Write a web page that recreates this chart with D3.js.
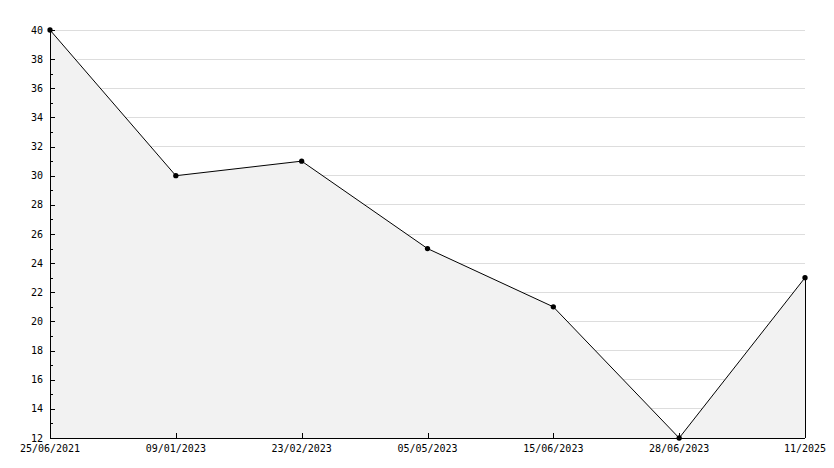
<!DOCTYPE html>
<html><head><meta charset="utf-8">
<script src="https://cdn.jsdelivr.net/npm/d3@7"></script>
<style>body{margin:0;background:#fff}svg{display:block}</style>
</head><body>
<svg id="c" width="834" height="468"></svg>
<script>
const categories = ["25/06/2021","09/01/2023","23/02/2023","05/05/2023","15/06/2023","28/06/2023","11/2025"];
const values = [40, 30, 31, 25, 21, 12, 23];
const yMajorTicks = [12,14,16,18,20,22,24,26,28,30,32,34,36,38,40];
const yMinorTicks = [13,15,17,19,21,23,25,27,29,31,33,35,37];

const svg = d3.select("#c");
const m = {l:50, r:29, t:30, b:30};
const W = 834, H = 468;
const x = d3.scalePoint().domain(categories).range([m.l, W - m.r]);
const y = d3.scaleLinear().domain([12, 40]).range([H - m.b, m.t]);
const font = "DejaVu Sans Mono";

// gridlines
svg.append("g").selectAll("line").data(yMajorTicks).join("line")
  .attr("x1", m.l).attr("x2", W - m.r)
  .attr("y1", d => y(d)).attr("y2", d => y(d))
  .attr("stroke", "#dddddd").attr("shape-rendering","crispEdges");

// area
const pts = categories.map((c,i)=>[x(c), y(values[i])]);
const area = d3.area().x(d=>d[0]).y0(y(12)).y1(d=>d[1]);
svg.append("path").datum(pts).attr("d", area).attr("fill", "#f2f2f2").attr("stroke","none");
svg.append("line").attr("x1", x(categories[categories.length-1])).attr("x2", x(categories[categories.length-1]))
  .attr("y1", y(values[values.length-1])).attr("y2", y(12)).attr("stroke","#000").attr("shape-rendering","crispEdges");
svg.append("path").datum(pts).attr("d", d3.line()).attr("fill","none").attr("stroke","#000").attr("stroke-width",1);

// y axis
const yAxis = svg.append("g");
yAxis.append("line").attr("x1", m.l).attr("x2", m.l).attr("y1", y(40)).attr("y2", y(12))
  .attr("stroke","#000").attr("shape-rendering","crispEdges");
yAxis.selectAll(".maj").data(yMajorTicks).join("line").attr("class","maj")
  .attr("x1", m.l).attr("x2", m.l+5).attr("y1", d=>Math.round(y(d))+0.5).attr("y2", d=>Math.round(y(d))+0.5)
  .attr("stroke","#000");
yAxis.selectAll(".min").data(yMinorTicks).join("line").attr("class","min")
  .attr("x1", m.l).attr("x2", m.l+3).attr("y1", d=>Math.round(y(d))+0.5).attr("y2", d=>Math.round(y(d))+0.5)
  .attr("stroke","#000");
yAxis.selectAll("text").data(yMajorTicks).join("text")
  .attr("x", m.l-7).attr("y", d=>y(d)).attr("dy","0.36em")
  .attr("text-anchor","end").attr("font-family",font).attr("font-size","10px").text(d=>d);

// x axis
const xAxis = svg.append("g");
xAxis.append("line").attr("x1", m.l).attr("x2", W-m.r).attr("y1", y(12)+0.5).attr("y2", y(12)+0.5).attr("stroke","#000");
xAxis.selectAll(".xt").data(categories).join("line").attr("class","xt")
  .attr("x1", d=>Math.round(x(d))+0.5).attr("x2", d=>Math.round(x(d))+0.5)
  .attr("y1", y(12)).attr("y2", y(12)-5).attr("stroke","#000");
xAxis.selectAll("text").data(categories).join("text")
  .attr("x", d=>x(d)).attr("y", y(12)+14)
  .attr("text-anchor","middle").attr("font-family",font).attr("font-size","10px").text(d=>d);

// markers
svg.append("g").selectAll("path").data(pts).join("path")
  .attr("transform", d=>`translate(${d[0]},${d[1]})`)
  .attr("d", d3.symbol().type(d3.symbolCircle).size(22)).attr("fill","#000");
</script>
</body></html>
